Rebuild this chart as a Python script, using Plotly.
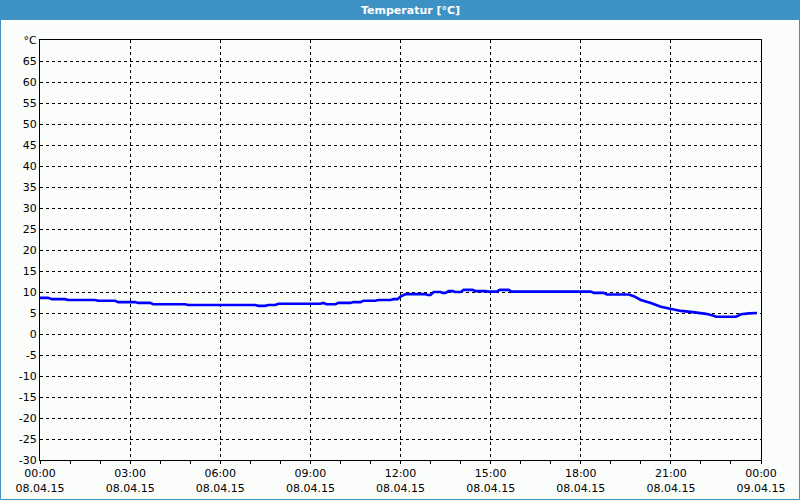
import plotly.graph_objects as go

times = ["00:00","00:16","00:24","00:50","00:56","01:50","01:56","02:30","02:36","03:10",
         "03:16","03:40","03:46","04:50","04:56","07:10","07:16","07:30","07:36","07:50",
         "07:56","09:20","09:26","09:32","09:50","09:56","10:20","10:26","10:40","10:46",
         "11:10","11:16","11:40","11:46","11:54","12:00","12:08","12:14","12:50","12:54",
         "13:00","13:06","13:20","13:24","13:30","13:36","13:44","13:50","14:00","14:06",
         "14:24","14:30","14:50","14:56","15:12","15:18","15:36","15:42","18:20","18:26",
         "18:46","18:52","19:36","19:46","20:00","20:20","20:40","21:00","21:20","21:44",
         "22:10","22:24","22:30","23:10","23:20","23:36","23:52"]
temps = [8.6,8.6,8.3,8.3,8.1,8.1,7.9,7.9,7.6,7.6,
         7.4,7.4,7.1,7.1,6.9,6.9,6.7,6.7,6.9,6.9,
         7.2,7.2,7.4,7.1,7.1,7.4,7.4,7.6,7.6,7.9,
         7.9,8.1,8.1,8.3,8.3,8.9,9.4,9.5,9.5,9.3,
         9.3,10.0,10.0,9.8,9.8,10.2,10.2,10.0,10.0,10.5,
         10.5,10.2,10.2,10.1,10.1,10.5,10.5,10.1,10.1,9.8,
         9.8,9.4,9.4,9.0,8.1,7.4,6.5,6.0,5.5,5.2,
         4.8,4.4,4.1,4.1,4.7,4.9,5.0]
day = "2015-04-08"
x_ticks = ["2015-04-08 00:00","2015-04-08 03:00","2015-04-08 06:00","2015-04-08 09:00",
           "2015-04-08 12:00","2015-04-08 15:00","2015-04-08 18:00","2015-04-08 21:00",
           "2015-04-09 00:00"]
x_labels = ["00:00<br>08.04.15","03:00<br>08.04.15","06:00<br>08.04.15","09:00<br>08.04.15",
            "12:00<br>08.04.15","15:00<br>08.04.15","18:00<br>08.04.15","21:00<br>08.04.15",
            "00:00<br>09.04.15"]
y_ticks = list(range(-30, 75, 5))
y_labels = [str(v) for v in y_ticks[:-1]] + ["°C"]
title = "Temperatur [°C]"

W, H = 800, 500
L, R, T, B = 40, 39, 40, 40
pw, ph = W - L - R, H - T - B
def px(p): return (p - L) / pw
def py(p): return (H - B - p) / ph

font = dict(family="DejaVu Sans", size=11, color="black")
bg = "#fbfdfb"
blue = "#3d91c4"

fig = go.Figure()
fig.add_trace(go.Scatter(x=[f"{day} {t}" for t in times], y=temps, mode="lines",
                         line=dict(color="#0000ff", width=2.6), hoverinfo="skip"))

fig.update_layout(
    width=W, height=H, margin=dict(l=L, r=R, t=T, b=B, autoexpand=False),
    paper_bgcolor=bg, plot_bgcolor=bg, showlegend=False, font=font,
    xaxis=dict(range=["2015-04-08 00:00", "2015-04-09 00:00"], tickmode="array",
               tickvals=x_ticks, ticktext=x_labels, showgrid=True, gridcolor="black",
               griddash="3px,3px", gridwidth=1, showline=True, linecolor="black",
               linewidth=1, mirror=True, ticks="outside", ticklen=3, tickcolor="black",
               zeroline=False, tickangle=0, automargin=False,
               minor=dict(tickmode="linear", tick0="2015-04-08 00:00", dtick=3600000,
                          ticks="outside", ticklen=3, tickcolor="black", showgrid=False)),
    yaxis=dict(range=[-30, 70], tickmode="array", tickvals=y_ticks, ticktext=y_labels,
               showgrid=True, gridcolor="black", griddash="3px,3px", gridwidth=1,
               showline=True, linecolor="black", linewidth=1, mirror=True,
               ticks="", zeroline=False, automargin=False),
    shapes=[
        dict(type="rect", xref="paper", yref="paper", x0=px(0), x1=px(W), y0=py(20), y1=py(0),
             fillcolor=blue, line=dict(width=0), layer="above"),
        dict(type="rect", xref="paper", yref="paper", x0=px(0.5), x1=px(W - 0.5),
             y0=py(H - 0.5), y1=py(0.5), line=dict(color=blue, width=1), layer="above"),
    ],
    annotations=[dict(text=f"<b>{title}</b>", xref="paper", yref="paper", x=px(410), y=py(10),
                      showarrow=False, font=dict(family="DejaVu Sans", size=11, color="white"),
                      xanchor="center", yanchor="middle")],
)

fig.write_html("out.html")
